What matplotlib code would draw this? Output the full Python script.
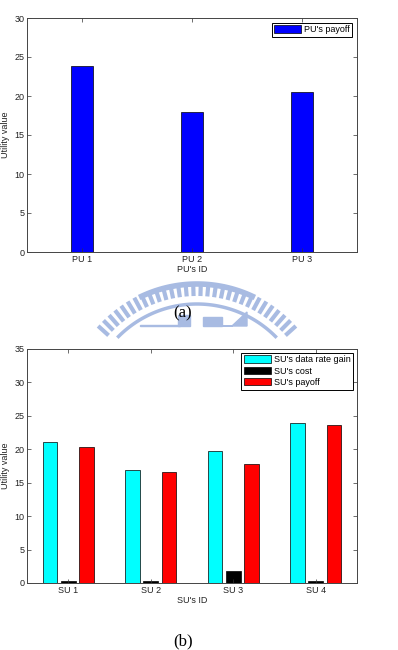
"""PU / SU utility bars, two stacked panels (a) and (b)."""
import matplotlib
matplotlib.use("Agg")
import matplotlib.pyplot as plt
import numpy as np

plt.rcParams["font.family"] = ["Liberation Sans", "DejaVu Sans"]

PU_LABELS = ["PU 1", "PU 2", "PU 3"]
PU_PAYOFF = [23.8, 18.0, 20.5]

SU_LABELS = ["SU 1", "SU 2", "SU 3", "SU 4"]
SU_GAIN = [21.1, 16.9, 19.7, 23.9]
SU_COST = [0.3, 0.3, 1.75, 0.3]
SU_PAYOFF = [20.3, 16.6, 17.8, 23.6]

FS = 6.5


def style_axes(ax, ymax):
    ax.set_ylim(0, ymax)
    ax.set_yticks(np.arange(0, ymax + 1, 5))
    ax.tick_params(direction="in", length=3, width=0.5, labelsize=FS,
                   top=True, right=True, pad=2, colors="#333333",
                   labelcolor="#222222")
    for sp in ax.spines.values():
        sp.set_linewidth(0.7)
        sp.set_color("#444444")


fig = plt.figure(figsize=(3.98, 6.5), dpi=100)

# watermark logo (faint, behind everything)
bg = fig.add_axes([0, 0, 1, 1], zorder=-5)
bg.set_xlim(0, 398)
bg.set_ylim(650, 0)
bg.axis("off")
wm = "#a8bbe2"
cx, cy = 197, 415
for a in np.linspace(np.radians(222), np.radians(318), 30):
    bg.plot([cx + 119 * np.cos(a), cx + 133 * np.cos(a)],
            [cy + 119 * np.sin(a), cy + 133 * np.sin(a)],
            color=wm, lw=3.0, solid_capstyle="butt")
th = np.linspace(np.radians(245), np.radians(295), 60)
bg.plot(cx + 131 * np.cos(th), cy + 131 * np.sin(th), color=wm, lw=4)
th = np.linspace(np.radians(225), np.radians(315), 100)
bg.plot(cx + 111 * np.cos(th), cy + 111 * np.sin(th), color=wm, lw=2.5)
bg.fill([140, 180, 180, 140], [326, 326, 325, 325], color=wm)
bg.fill([178, 190, 190, 178], [326, 326, 315, 315], color=wm)
bg.fill([203, 222, 222, 203], [326, 326, 317, 317], color=wm)
bg.fill([222, 232, 247, 247, 222], [326, 326, 312, 326, 326], color=wm)

# (a) PU payoff
ax1 = fig.add_axes([27 / 398, 398 / 650, 330 / 398, 234 / 650])
x1 = np.arange(1, len(PU_LABELS) + 1)
ax1.bar(x1, PU_PAYOFF, 0.2, color="#0000ff", edgecolor="black",
        linewidth=0.5, label="PU's payoff")
ax1.set_xlim(0.5, len(PU_LABELS) + 0.5)
ax1.set_xticks(x1)
ax1.set_xticklabels(PU_LABELS)
style_axes(ax1, 30)
ax1.set_xlabel("PU's ID", fontsize=FS, labelpad=1, color="#222222")
ax1.set_ylabel("Utility value", fontsize=FS, labelpad=3, color="#222222")
leg = ax1.legend(loc="upper right", fontsize=FS, handlelength=3.0,
                 handleheight=0.9, borderaxespad=0.5, fancybox=False,
                 framealpha=1, borderpad=0.3, handletextpad=0.3)
leg.get_frame().set_edgecolor("black")
leg.get_frame().set_linewidth(0.7)

# (b) SU gain / cost / payoff
ax2 = fig.add_axes([27 / 398, 67 / 650, 330 / 398, 234 / 650])
x2 = np.arange(1, len(SU_LABELS) + 1)
step = 0.667 / 3
w = step * 0.8
ax2.bar(x2 - step, SU_GAIN, w, color="#00ffff", edgecolor="black",
        linewidth=0.5, label="SU's data rate gain")
ax2.bar(x2, SU_COST, w, color="black", edgecolor="black",
        linewidth=0.5, label="SU's cost")
ax2.bar(x2 + step, SU_PAYOFF, w, color="#ff0000", edgecolor="black",
        linewidth=0.5, label="SU's payoff")
ax2.set_xlim(0.5, len(SU_LABELS) + 0.5)
ax2.set_xticks(x2)
ax2.set_xticklabels(SU_LABELS)
style_axes(ax2, 35)
ax2.set_xlabel("SU's ID", fontsize=FS, labelpad=1, color="#222222")
ax2.set_ylabel("Utility value", fontsize=FS, labelpad=3, color="#222222")
leg = ax2.legend(loc="upper right", fontsize=FS, handlelength=3.0,
                 handleheight=0.9, borderaxespad=0.4, fancybox=False,
                 framealpha=1, borderpad=0.3, handletextpad=0.3,
                 labelspacing=0.25)
leg.get_frame().set_edgecolor("black")
leg.get_frame().set_linewidth(0.7)

fig.text(183 / 398, 1 - 313 / 650, "(a)", ha="center", va="center",
         fontsize=12, family="Liberation Serif")
fig.text(183 / 398, 1 - 641 / 650, "(b)", ha="center", va="center",
         fontsize=12, family="Liberation Serif")

fig.savefig("out.png", dpi=100)
